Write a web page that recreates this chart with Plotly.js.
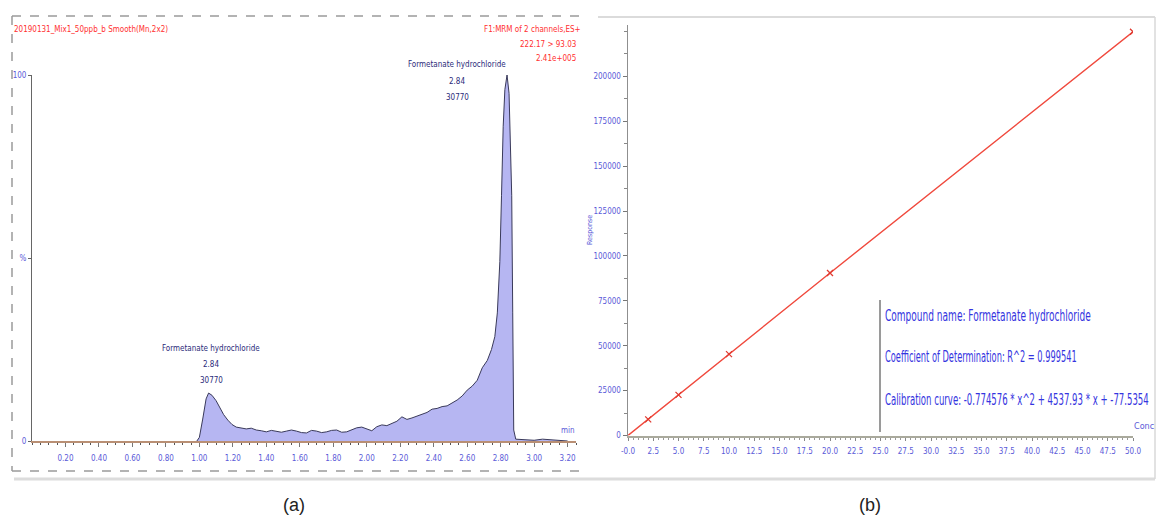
<!DOCTYPE html>
<html>
<head>
<meta charset="utf-8">
<script src="https://cdn.plot.ly/plotly-3.0.1.min.js"></script>
<style>
html,body{margin:0;padding:0;background:#fff;}
#chart{width:1159px;height:528px;}
</style>
</head>
<body>
<div id="chart"></div>
<script>
// ---------- Panel (a): chromatogram ----------
const rtMin = [0.985,1.00,1.02,1.04,1.055,1.075,1.10,1.12,1.145,1.17,1.195,1.22,1.25,1.28,1.31,1.34,1.37,1.40,1.43,1.46,1.49,1.52,1.55,1.58,1.61,1.64,1.67,1.70,1.73,1.76,1.79,1.82,1.85,1.88,
  1.91,1.94,1.97,2.00,2.03,2.06,2.09,2.12,2.15,2.18,2.21,2.24,2.27,2.30,2.33,2.36,2.39,2.42,2.45,2.48,2.51,2.54,2.57,2.60,2.63,2.66,2.69,2.72,2.745,2.765,2.78,2.795,2.805,2.815,2.825,2.838,2.85,2.86,2.866,2.872,2.878,2.89,2.95,3.00,3.05,3.10,3.15,3.20];
const intensityPct = [0,1,6,11.5,13.1,12.5,11,9.3,7.2,5.7,4.5,3.8,3.5,3.3,3.5,3.0,2.8,2.5,2.9,2.7,2.4,2.7,3.0,2.7,2.3,2.2,2.9,2.7,2.3,2.5,2.9,3.0,2.4,2.5,
  3.0,3.6,3.8,3.2,2.8,3.9,4.4,4.2,4.9,5.4,6.6,5.9,6.3,6.9,7.3,7.8,8.7,8.9,9.4,9.6,10.3,11.2,12.3,13.9,15.0,16.6,20.0,22.0,25,28.5,35,49,67,86,96,100,95,80,67,35,3,0.5,0.4,0.2,0.5,0.3,0.2,0];
const aTickVals = [0.2,0.4,0.6,0.8,1.0,1.2,1.4,1.6,1.8,2.0,2.2,2.4,2.6,2.8,3.0,3.2];
const aTickText = ["0.20","0.40","0.60","0.80","1.00","1.20","1.40","1.60","1.80","2.00","2.20","2.40","2.60","2.80","3.00","3.20"];
const aYTickVals = [0,50,100];
const aYTickText = ["0","%","100"];
const headerLeft = "20190131_Mix1_50ppb_b Smooth(Mn,2x2)";
const headerRight = ["F1:MRM of 2 channels,ES+","222.17 > 93.03","2.41e+005"];
const peakLabel = ["Formetanate hydrochloride","2.84","30770"];

// ---------- Panel (b): calibration ----------
const concLevels = [2,5,10,20,50];
const responses = [9000,22600,45300,90500,224800];
const fitConc = [0,2,5,10,20,50];
const fitResp = [0,9000,22600,45300,90500,224800];
const bTickVals = [0,2.5,5,7.5,10,12.5,15,17.5,20,22.5,25,27.5,30,32.5,35,37.5,40,42.5,45,47.5,50];
const bTickText = ["-0.0","2.5","5.0","7.5","10.0","12.5","15.0","17.5","20.0","22.5","25.0","27.5","30.0","32.5","35.0","37.5","40.0","42.5","45.0","47.5","50.0"];
const bYTickVals = [0,25000,50000,75000,100000,125000,150000,175000,200000];
const bYTickText = ["0","25000","50000","75000","100000","125000","150000","175000","200000"];
const infoLines = ["Compound name: Formetanate hydrochloride",
  "Coefficient of Determination: R^2 = 0.999541",
  "Calibration curve: -0.774576 * x^2 + 4537.93 * x + -77.5354"];
const infoWidths = [206, 192, 264];

const W = 1159, H = 528;
const px = x => x / W;
const py = y => 1 - y / H;
const NARROW = "Liberation Sans Narrow, DejaVu Sans Condensed, Arial Narrow, Liberation Sans, sans-serif";
const tickBlue = "#5a5ad8";

const traces = [
  {x: rtMin, y: intensityPct, type: "scatter", mode: "lines", fill: "tozeroy",
   fillcolor: "#b6b6f2", line: {color: "#3a3a5a", width: 1}, xaxis: "x", yaxis: "y",
   hoverinfo: "skip", showlegend: false},
  {x: fitConc, y: fitResp, type: "scatter", mode: "lines",
   line: {color: "#f04a3e", width: 1.4}, xaxis: "x2", yaxis: "y2", showlegend: false},
  {x: concLevels, y: responses, type: "scatter", mode: "markers",
   marker: {symbol: "x-thin-open", size: 6, line: {color: "#e03a30", width: 1.3}, color: "#e03a30"},
   xaxis: "x2", yaxis: "y2", showlegend: false}
];

function ann(x, y, text, o) {
  return Object.assign({xref: "paper", yref: "paper", x: px(x), y: py(y), text: text,
    showarrow: false, xanchor: "center", yanchor: "middle",
    font: {family: NARROW, size: 8, color: "#2b2b7a"}}, o || {});
}

const annotations = [
  ann(12, 30, headerLeft, {xanchor: "left", font: {family: NARROW, size: 8, color: "#ff3030"}}),
  ann(583, 30, headerRight[0], {xanchor: "right", font: {family: NARROW, size: 8, color: "#ff3030"}}),
  ann(578, 44, headerRight[1], {xanchor: "right", font: {family: NARROW, size: 8, color: "#ff3030"}}),
  ann(578, 58, headerRight[2], {xanchor: "right", font: {family: NARROW, size: 8, color: "#ff3030"}}),
  ann(457, 65, peakLabel[0]), ann(457, 81, peakLabel[1]), ann(457, 97, peakLabel[2]),
  ann(211, 348, peakLabel[0]), ann(211, 364, peakLabel[1]), ann(211, 380, peakLabel[2]),
  ann(568, 430, "min", {font: {family: NARROW, size: 8, color: tickBlue}}),
  ann(1144, 426, "Conc", {font: {family: NARROW, size: 9, color: tickBlue}}),
  ann(590, 230, "Response", {textangle: -90, font: {family: NARROW, size: 7, color: tickBlue}})
].concat(infoLines.map((t, i) => ann(884, [316, 357, 400][i], t,
  {xanchor: "left", align: "left", borderpad: 0, font: {family: NARROW, size: 15, color: "#3434e0"}})))
 .concat([
  ann(294, 505, "(a)", {font: {family: "Liberation Sans, Open Sans, sans-serif", size: 18, color: "#222"}}),
  ann(870, 505, "(b)", {font: {family: "Liberation Sans, Open Sans, sans-serif", size: 18, color: "#222"}})
]);

function line(x0, y0, x1, y1, color, width, dash) {
  return {type: "line", xref: "paper", yref: "paper", x0: px(x0), y0: py(y0), x1: px(x1), y1: py(y1),
    line: {color: color, width: width, dash: dash || "solid"}};
}
const shapes = [
  line(12, 16, 583, 16, "#9a9a9a", 1.5, "dash"),
  line(12, 16, 12, 471, "#9a9a9a", 1.5, "dash"),
  line(12, 471, 583, 471, "#9a9a9a", 1.5, "dash"),
  line(14, 479, 1155, 479, "#dcdcdc", 3),
  line(598, 17, 1155, 17, "#cfcfcf", 1.5),
  line(1155, 17, 1155, 479, "#d8d8d8", 1.5),
  line(880, 300, 880, 432, "#9a9a9a", 2)
];

const layout = {
  width: W, height: H,
  margin: {l: 0, r: 0, t: 0, b: 0},
  paper_bgcolor: "#ffffff", plot_bgcolor: "rgba(0,0,0,0)",
  showlegend: false,
  xaxis: {domain: [px(32), px(576)], range: [0, 3.25], anchor: "y",
    tickvals: aTickVals, ticktext: aTickText, ticks: "outside", ticklen: 4, tickcolor: "#777",
    minor: {dtick: 0.05, ticks: "outside", ticklen: 2, tickcolor: "#555", tick0: 0},
    showline: true, linecolor: "#b98f74", linewidth: 2, showgrid: false, zeroline: false,
    tickfont: {family: NARROW, size: 8, color: tickBlue}, ticklabelstandoff: 4},
  yaxis: {domain: [py(441), py(75)], range: [0, 100], anchor: "x",
    tickvals: aYTickVals, ticktext: aYTickText, ticks: "outside", ticklen: 3, tickcolor: "#666",
    showline: true, linecolor: "#666", linewidth: 1, showgrid: false, zeroline: false,
    tickfont: {family: NARROW, size: 8, color: tickBlue}},
  xaxis2: {domain: [px(628), px(1133)], range: [0, 50], anchor: "y2",
    tickvals: bTickVals, ticktext: bTickText, ticks: "outside", ticklen: 3, tickcolor: "#888",
    minor: {dtick: 0.5, ticks: "outside", ticklen: 2, tickcolor: "#999"},
    showline: true, linecolor: "#a9a99c", linewidth: 2.5, showgrid: false, zeroline: false,
    tickfont: {family: NARROW, size: 8, color: tickBlue}, ticklabelstandoff: 3},
  yaxis2: {domain: [py(435.5), py(25)], range: [0, 228560], anchor: "x2",
    tickvals: bYTickVals, ticktext: bYTickText, ticks: "outside", ticklen: 4, tickcolor: "#777",
    minor: {dtick: 12500, ticks: "outside", ticklen: 3, tickcolor: "#888"},
    showline: true, linecolor: "#8f8f8f", linewidth: 1.5, showgrid: false, zeroline: false,
    tickfont: {family: NARROW, size: 8, color: tickBlue}},
  annotations: annotations,
  shapes: shapes
};

Plotly.newPlot("chart", traces, layout, {displayModeBar: false, staticPlot: true}).then(() => {
  // Squeeze the info-box lines horizontally (scale transform) to mimic the narrow font of the original
  document.querySelectorAll("#chart .annotation").forEach(g => {
    const el = g.querySelector(".annotation-text");
    if (!el) return;
    const i = infoLines.indexOf(el.textContent);
    if (i < 0) return;
    const bb = el.getBBox();
    const sx = infoWidths[i] / bb.width;
    el.setAttribute("transform",
      "translate(" + bb.x + ",0) scale(" + sx + ",1) translate(" + (-bb.x) + ",0)");
    g.querySelectorAll("rect").forEach(r => {
      r.setAttribute("x", String(bb.x));
      r.setAttribute("width", String(infoWidths[i]));
    });
  });
});
</script>
</body>
</html>
